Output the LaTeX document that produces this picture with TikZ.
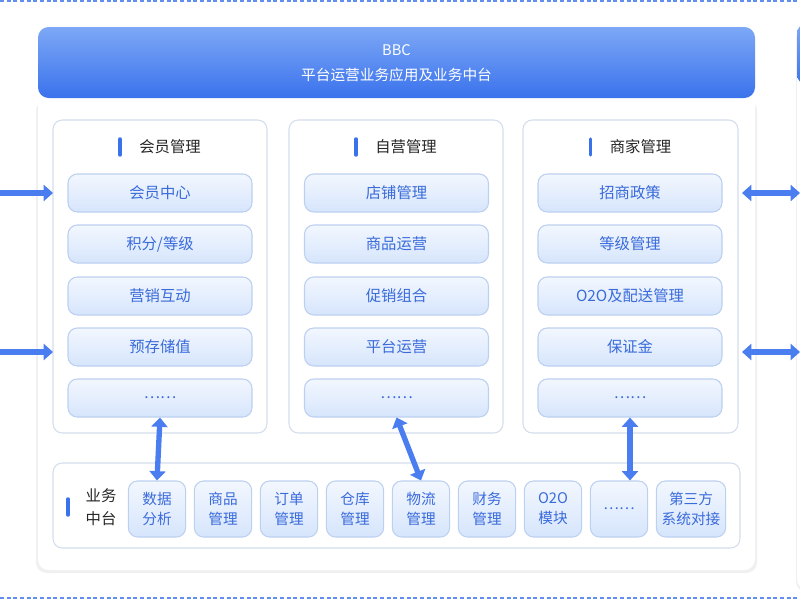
\documentclass[tikz,border=0pt]{standalone}
\usepackage{fontspec}
\setmainfont{Noto Sans CJK SC}
\usetikzlibrary{arrows.meta,shadows}
\definecolor{hdtop}{HTML}{7DA8F6}
\definecolor{hdbot}{HTML}{3A72EC}
\definecolor{itemtxt}{HTML}{3A6BDB}
\definecolor{itemfill}{HTML}{D6E5FC}
\definecolor{itemdraw}{HTML}{BCD0F0}
\definecolor{boxdraw}{HTML}{D5DEEC}
\definecolor{arr}{HTML}{4A7EF0}
\begin{document}
\begin{tikzpicture}[x=0.75pt,y=-0.75pt,
  item/.style={draw=itemdraw,line width=0.8pt,rounded corners=7pt,top color=white!70!itemfill,bottom color=itemfill,text=itemtxt,font=\fontsize{11.5pt}{13pt}\selectfont,minimum width=138pt,minimum height=28.5pt,inner sep=0pt},
  sitem/.style={item,minimum width=43pt,minimum height=42pt,align=center,font=\fontsize{11pt}{15pt}\selectfont},
  col/.style={draw=boxdraw,fill=white,line width=0.8pt,rounded corners=7pt},
  ttl/.style={font=\fontsize{11.5pt}{13pt}\selectfont,text=black!85},
  bar/.style={line width=2.6pt,draw=hdbot,line cap=round},
  dbl/.style={line width=4pt,draw=arr,{Triangle[length=7pt,width=12pt]}-{Triangle[length=7pt,width=12pt]}},
  sgl/.style={line width=4pt,draw=arr,-{Triangle[length=7pt,width=12pt]}},
  dsh/.style={draw=hdbot!80,line width=1.2pt,dash pattern=on 3pt off 2pt}]
\useasboundingbox (0,0) rectangle (800,600);
\fill[white] (0,0) rectangle (800,600);
\draw[dsh] (0,1) -- (800,1);
\draw[dsh] (0,598) -- (800,598);
% right partial panel
\fill[black!6,rounded corners=8pt] (796,28) rectangle (812,592);
\fill[white,rounded corners=8pt] (797,26) rectangle (812,590);
\shade[top color=hdtop,bottom color=hdbot,rounded corners=8pt] (797,23) rectangle (812,85);
% main panel
\fill[black!6,rounded corners=8pt] (36,100) rectangle (757,573);
\fill[white,rounded corners=8pt] (38,90) rectangle (755,570);
\shade[top color=hdtop,bottom color=hdbot,rounded corners=8pt] (38,27) rectangle (755,98);
\node[text=white,font=\fontsize{11pt}{13pt}\selectfont] (hd1) at (396.5,50) {BBC};
\node[text=white,font=\fontsize{11pt}{13pt}\selectfont] (hd2) at (396.5,75) {平台运营业务应用及业务中台};
% columns
\foreach \n/\xa/\xb/\t in {a/53/267/会员管理,b/289/503/自营管理,c/523/738/商家管理}{
  \draw[col] (\xa,120) rectangle (\xb,433);
  \pgfmathsetmacro\cx{(\xa+\xb)/2}
  \node[ttl] (t\n) at (\cx+10,147) {\t};
  \draw[bar] (\cx-40,139) -- (\cx-40,155);
}
\foreach \n/\c/\t [count=\i] in {a1/160/会员中心,a2/160/{积分/等级},a3/160/营销互动,a4/160/预存储值,a5/160/……,
  b1/396.5/店铺管理,b2/396.5/商品运营,b3/396.5/促销组合,b4/396.5/平台运营,b5/396.5/……,
  c1/630/招商政策,c2/630/等级管理,c3/630/O2O及配送管理,c4/630/保证金,c5/630/……}{
  \pgfmathsetmacro\yy{{193,244,296,347,398}[mod(\i-1,5)]}
  \node[item] (\n) at (\c,\yy) {\t};
}
% bottom box
\draw[col] (53,463) rectangle (740,548);
\draw[bar] (68,499) -- (68,515);
\node[ttl,align=center,font=\fontsize{11.5pt}{17pt}\selectfont] (zt) at (101,507) {业务\\中台};
\foreach \n/\c/\t in {d1/157/数据\\分析,d2/223/商品\\管理,d3/289/订单\\管理,d4/355/仓库\\管理,d5/421/物流\\管理,d6/487/财务\\管理,d7/553/O2O\\模块,d8/619/……}{
  \node[sitem] (\n) at (\c,509) {\t};
}
\node[sitem,minimum width=52pt] (d9) at (691,509) {第三方\\系统对接};
% arrows
\draw[dbl] (a5.south) -- (d1.north);
\draw[dbl] (b5.south) -- (d5.north);
\draw[dbl] (c5.south) -- (d7.north -| c5.south);
\coordinate (l1) at (0,193); \coordinate (l2) at (0,352);
\coordinate (r1) at (800,193); \coordinate (r2) at (800,352);
\coordinate (lb1) at (53,193); \coordinate (lb2) at (53,352);
\coordinate (rb1) at (742,193); \coordinate (rb2) at (742,352);
\draw[sgl] (l1) -- (lb1);
\draw[sgl] (l2) -- (lb2);
\draw[dbl] (rb1) -- (r1);
\draw[dbl] (rb2) -- (r2);
\end{tikzpicture}
\end{document}
